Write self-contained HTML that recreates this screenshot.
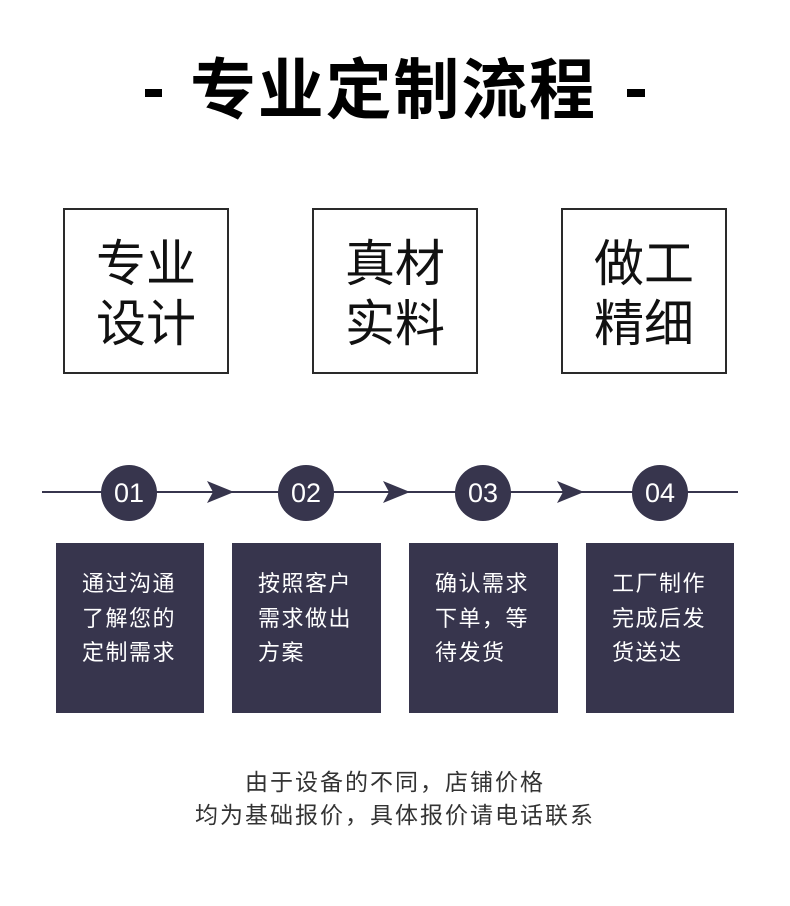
<!DOCTYPE html>
<html><head><meta charset="utf-8"><style>
body{margin:0;width:790px;height:906px;background:#fff;position:relative;overflow:hidden;font-family:"Liberation Sans","Noto Sans CJK SC",sans-serif}
.a{position:absolute}
.t{position:absolute;top:52px;font-size:66px;font-weight:bold;color:#000;line-height:76px;white-space:nowrap}
.dash{position:absolute;top:89px;height:8px;background:#000}
.box{position:absolute;top:208px;width:162px;height:162px;border:2px solid #2a2a2a;box-sizing:content-box}
.box div{position:absolute;left:0;right:0;text-align:center;font-size:50px;line-height:60px;color:#111}
.c{position:absolute;top:465px;width:56px;height:56px;border-radius:50%;background:#37354d;color:#fff;font-size:27px;line-height:56px;text-align:center}
.s{position:absolute;top:543px;width:148px;height:170px;background:#37354d;color:#fff;font-size:22px;line-height:34.5px;letter-spacing:1.5px;padding:24px 0 0 26px;box-sizing:border-box}
.f{position:absolute;left:0;width:790px;text-align:center;font-size:23px;color:#333;letter-spacing:2px;line-height:30px}
</style></head><body>
<div class="dash" style="left:145px;width:17px"></div>
<div class="t" style="left:190px;letter-spacing:1.8px">专业定制流程</div>
<div class="dash" style="left:627px;width:18px"></div>

<div class="box" style="left:63px"><div style="top:24px">专业</div><div style="top:84px">设计</div></div>
<div class="box" style="left:312px"><div style="top:24px">真材</div><div style="top:84px">实料</div></div>
<div class="box" style="left:561px"><div style="top:24px">做工</div><div style="top:84px">精细</div></div>

<svg class="a" style="left:0;top:0" width="790" height="906">
<line x1="42" y1="492" x2="738" y2="492" stroke="#37354d" stroke-width="2"/>
<path d="M207 481 L234 492 L207 503 L213 492 Z" fill="#37354d"/>
<path d="M383 481 L410 492 L383 503 L389 492 Z" fill="#37354d"/>
<path d="M557 481 L584 492 L557 503 L563 492 Z" fill="#37354d"/>
</svg>
<div class="c" style="left:101px">01</div>
<div class="c" style="left:278px">02</div>
<div class="c" style="left:455px">03</div>
<div class="c" style="left:632px">04</div>

<div class="s" style="left:56px">通过沟通<br>了解您的<br>定制需求</div>
<div class="s" style="left:232px;width:149px">按照客户<br>需求做出<br>方案</div>
<div class="s" style="left:409px;width:149px">确认需求<br>下单，等<br>待发货</div>
<div class="s" style="left:586px">工厂制作<br>完成后发<br>货送达</div>

<div class="f" style="top:767px">由于设备的不同，店铺价格</div>
<div class="f" style="top:800px">均为基础报价，具体报价请电话联系</div>
</body></html>
